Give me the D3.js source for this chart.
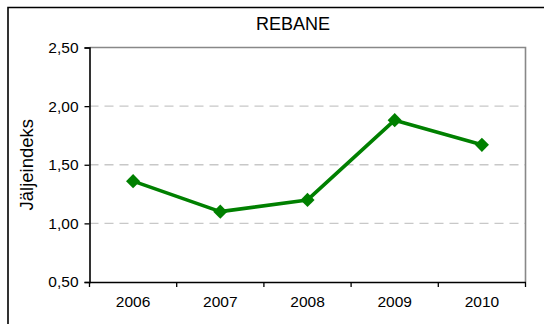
<!DOCTYPE html>
<html>
<head>
<meta charset="utf-8">
<script src="https://cdn.jsdelivr.net/npm/d3@7"></script>
<style>
  html, body { margin: 0; padding: 0; background: #fff; }
  svg { display: block; font-family: "Liberation Sans", Arial, sans-serif; }
</style>
</head>
<body>
<svg id="chart" width="544" height="324"></svg>
<script>
// Fox track index by year
const years = ["2006", "2007", "2008", "2009", "2010"];
const values = [1.36, 1.10, 1.20, 1.88, 1.67];
const yTicks = [0.5, 1.0, 1.5, 2.0, 2.5];
const title = "REBANE";
const yTitle = "Jäljeindeks";

const svg = d3.select("#chart");
const W = 544, H = 324;
const m = { left: 89.5, top: 47.5, right: 525.5, bottom: 282 };

// outer frame (left and top edges)
svg.append("path")
  .attr("d", `M8,${H} V7.5 H${W}`)
  .attr("fill", "none").attr("stroke", "#000").attr("stroke-width", 1.6);

const x = d3.scaleBand().domain(years).range([m.left, m.right]);
const y = d3.scaleLinear().domain([0.5, 2.5]).range([m.bottom, m.top]);
const fmt = d => d3.format(".2f")(d).replace(".", ",");

// dashed gridlines
svg.append("g").selectAll("line")
  .data(yTicks.filter(t => t > 0.5 && t < 2.5))
  .join("line")
  .attr("x1", m.left).attr("x2", m.right)
  .attr("y1", d => y(d)).attr("y2", d => y(d))
  .attr("stroke", "#c8c8c8").attr("stroke-width", 1.3)
  .attr("stroke-dasharray", "9,6");

// plot area border, top and right
svg.append("path")
  .attr("d", `M${m.left},${m.top} H${m.right} V${m.bottom}`)
  .attr("fill", "none").attr("stroke", "#888").attr("stroke-width", 1.6);

// y axis
const yAxis = svg.append("g")
  .attr("transform", `translate(${m.left},0)`)
  .call(d3.axisLeft(y).tickValues(yTicks).tickFormat(fmt).tickSize(5).tickPadding(6));
yAxis.select(".domain").attr("stroke", "#000").attr("stroke-width", 1.6);
yAxis.selectAll(".tick line").attr("stroke", "#000").attr("stroke-width", 1.3);
yAxis.selectAll(".tick text")
  .attr("font-size", 15.5).attr("fill", "#000")
  .attr("font-family", "Liberation Sans, Arial, sans-serif");

// x axis with ticks at category boundaries
const xAxis = svg.append("g")
  .attr("transform", `translate(0,${m.bottom})`)
  .call(d3.axisBottom(x).tickSize(0).tickPadding(14));
xAxis.select(".domain").attr("stroke", "#000").attr("stroke-width", 1.6);
xAxis.selectAll(".tick text")
  .attr("font-size", 15.5).attr("fill", "#000")
  .attr("font-family", "Liberation Sans, Arial, sans-serif");
const bounds = years.map(d => x(d)).concat([x(years[years.length - 1]) + x.bandwidth()]);
xAxis.append("g").selectAll("line")
  .data(bounds)
  .join("line")
  .attr("x1", d => d).attr("x2", d => d)
  .attr("y1", 0).attr("y2", 5)
  .attr("stroke", "#000").attr("stroke-width", 1.3);

// series line
const cx = d => x(d) + x.bandwidth() / 2;
const line = d3.line().x((d, i) => cx(years[i])).y(d => y(d));
svg.append("path")
  .datum(values)
  .attr("d", line)
  .attr("fill", "none").attr("stroke", "#008000").attr("stroke-width", 3.6)
  .attr("stroke-linejoin", "round");

// diamond markers
const diamond = d3.symbol().type(d3.symbolSquare).size(100);
svg.append("g").selectAll("path")
  .data(values)
  .join("path")
  .attr("d", diamond)
  .attr("transform", (d, i) => `translate(${cx(years[i])},${y(d)}) rotate(45)`)
  .attr("fill", "#008000");

// titles
svg.append("text")
  .attr("x", 293).attr("y", 30)
  .attr("text-anchor", "middle")
  .attr("font-size", 18).attr("fill", "#000")
  .text(title);

svg.append("text")
  .attr("transform", `translate(33,${(m.top + m.bottom) / 2}) rotate(-90)`)
  .attr("text-anchor", "middle")
  .attr("font-size", 18.5).attr("fill", "#000")
  .text(yTitle);
</script>
</body>
</html>
